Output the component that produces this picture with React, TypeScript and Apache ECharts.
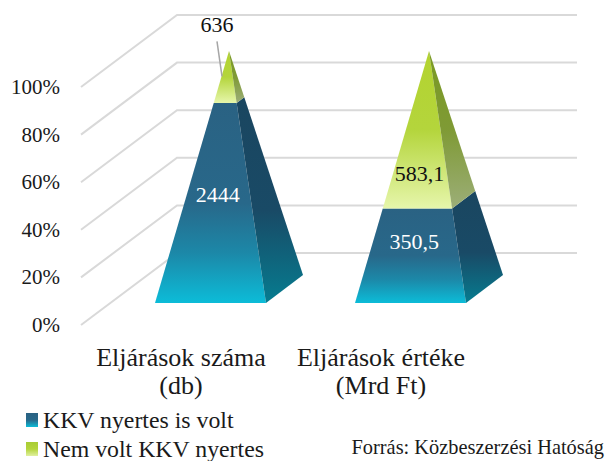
import React, { useEffect, useRef } from "react";
import * as echarts from "echarts";

const categories = ["Eljárások száma\n(db)", "Eljárások értéke\n(Mrd Ft)"];
const kkvWinner = [2444, 350.5];
const noKkvWinner = [636, 583.1];
const seriesNames = ["KKV nyertes is volt", "Nem volt KKV nyertes"];
const yTicks = [0, 20, 40, 60, 80, 100];
const sourceText = "Forrás: Közbeszerzési Hatóság";

// Level (in %) where each value label sits on its pyramid, as placed in the reference
const kkvLabelLevels = [39.7, 20];
const noKkvLabelLevels = [111.2, 48.6];

// 3D projection constants (pixels)
const DEPTH_X = 96;
const DEPTH_Y = 72;
const HALF_W = 55.5;
const HALF_DX = 18.5;
const HALF_DY = 14;
const SERIF = "'Liberation Serif', serif";

const vGrad = (stops: [number, string][]) => ({
  type: "linear",
  x: 0,
  y: 0,
  x2: 0,
  y2: 1,
  colorStops: stops.map(([offset, color]) => ({ offset, color })),
});

const blueFront = vGrad([[0, "#2a6283"], [0.5, "#28688a"], [0.75, "#1c88a8"], [1, "#0cbcd8"]]);
const blueSide = vGrad([[0, "#1a4660"], [0.55, "#194a66"], [1, "#067c90"]]);
const greenFront = vGrad([[0, "#b3d32f"], [0.5, "#b4d53c"], [1, "#e6f6ab"]]);
const greenSide = vGrad([[0, "#7a9a22"], [0.5, "#7f9a35"], [1, "#9cae78"]]);
const legendBlue = vGrad([[0, "#2a6283"], [0.5, "#28688a"], [1, "#0cbcd8"]]);
const legendGreen = vGrad([[0, "#a9cc35"], [0.5, "#b4d53c"], [1, "#e0f0a0"]]);

const pct = (i: number, list: number[]) =>
  (list[i] / (kkvWinner[i] + noKkvWinner[i])) * 100;

const kkvData = categories.map((_, i) => [i, 0, pct(i, kkvWinner), kkvWinner[i], kkvLabelLevels[i]]);
const noKkvData = categories.map((_, i) => [i, pct(i, kkvWinner), 100, noKkvWinner[i], noKkvLabelLevels[i]]);

const fmt = (v: number) => String(v).replace(".", ",");

function pyramidRenderer(front: any, side: any, textColors: string[], leaderIdx: number) {
  return (params: any, api: any) => {
    const i = api.value(0);
    const t0 = api.value(1) / 100;
    const t1 = api.value(2) / 100;
    const raw = api.value(3);
    const lvl = api.value(4);
    const base = api.coord([i, 0]);
    const top = api.coord([i, 100]);
    const cx = base[0] + DEPTH_X / 2;
    const baseY = base[1] - DEPTH_Y / 2;
    const h = base[1] - top[1];
    const P = (u: number, w: number, t: number): number[] => {
      const s = 1 - t;
      return [cx + s * (u * HALF_W + w * HALF_DX), baseY - t * h - s * w * HALF_DY];
    };
    const poly = (pts: number[][], fill: any) => ({
      type: "polygon",
      shape: { points: pts },
      style: { fill },
    });
    const lt = Math.min(lvl / 100, 1);
    const labelX = cx - (1 - lt) * HALF_DX;
    const labelY = baseY - (lvl / 100) * h;
    const children: any[] = [
      poly([P(-1, -1, t0), P(1, -1, t0), P(1, -1, t1), P(-1, -1, t1)], front),
      poly([P(1, -1, t0), P(1, 1, t0), P(1, 1, t1), P(1, -1, t1)], side),
    ];
    if (i === leaderIdx) {
      children.push({
        type: "line",
        shape: { x1: labelX - 12, y1: labelY + 17, x2: labelX - 7, y2: labelY + 52 },
        style: { stroke: "#a6a6a6", lineWidth: 1.5 },
      });
    }
    children.push({
      type: "text",
      x: i === leaderIdx ? labelX - 12 : labelX,
      y: labelY,
      style: {
        text: fmt(raw),
        fill: textColors[i],
        font: `22px ${SERIF}`,
        align: "center",
        verticalAlign: "middle",
      },
    });
    return { type: "group", children };
  };
}

function renderGrid(params: any, api: any) {
  const v = api.value(0);
  const band = api.size([1, 0])[0];
  const left = api.coord([0, v])[0] - band / 2;
  const y = api.coord([0, v])[1];
  const right = api.coord([categories.length - 1, v])[0] + band / 2;
  return {
    type: "polyline",
    shape: {
      points: [
        [left, y],
        [left + DEPTH_X, y - DEPTH_Y],
        [right + DEPTH_X, y - DEPTH_Y],
      ],
    },
    style: { stroke: "#d9d9d9", lineWidth: 2, fill: "none" },
  };
}

export default function App() {
  const ref = useRef<HTMLDivElement>(null);
  useEffect(() => {
    const chart = echarts.init(ref.current!, undefined, { renderer: "svg" });
    chart.setOption({
      animation: false,
      backgroundColor: "#ffffff",
      grid: { left: 81, top: 87, width: 400, height: 238 },
      xAxis: {
        type: "category",
        data: categories,
        axisLine: { show: false },
        axisTick: { show: false },
        axisLabel: {
          interval: 0,
          margin: 18,
          color: "#1a1a1a",
          fontFamily: SERIF,
          fontSize: 26,
          lineHeight: 28,
        },
      },
      yAxis: {
        type: "value",
        min: 0,
        max: 100,
        interval: 20,
        axisLine: { show: false },
        axisTick: { show: false },
        splitLine: { show: false },
        axisLabel: {
          formatter: "{value}%",
          margin: 21,
          color: "#1a1a1a",
          fontFamily: SERIF,
          fontSize: 21,
          padding: [0, 0, 6, 0],
        },
      },
      legend: {
        orient: "vertical",
        left: 26,
        top: 408,
        height: 100,
        padding: 0,
        itemWidth: 12,
        itemHeight: 14,
        itemGap: 5,
        icon: "rect",
        data: seriesNames,
        textStyle: { fontFamily: SERIF, fontSize: 23.8, lineHeight: 20, color: "#1a1a1a" },
      },
      graphic: [
        {
          type: "text",
          right: 2,
          top: 437,
          style: { text: sourceText, fill: "#1a1a1a", font: `20.4px ${SERIF}` },
        },
      ],
      series: [
        {
          type: "custom",
          name: "wall",
          coordinateSystem: "cartesian2d",
          renderItem: renderGrid,
          data: yTicks.map((v) => [v]),
          encode: { y: 0 },
          silent: true,
          z: 1,
        },
        {
          type: "custom",
          name: seriesNames[0],
          coordinateSystem: "cartesian2d",
          renderItem: pyramidRenderer(blueFront, blueSide, ["#ffffff", "#ffffff"], -1),
          itemStyle: { color: legendBlue },
          data: kkvData,
          encode: { x: 0, y: [1, 2] },
          z: 2,
        },
        {
          type: "custom",
          name: seriesNames[1],
          coordinateSystem: "cartesian2d",
          renderItem: pyramidRenderer(greenFront, greenSide, ["#111111", "#111111"], 0),
          itemStyle: { color: legendGreen },
          data: noKkvData,
          encode: { x: 0, y: [1, 2] },
          z: 3,
        },
      ],
    });
    return () => chart.dispose();
  }, []);
  return (
    <div
      ref={ref}
      style={{ position: "absolute", left: 0, top: 0, width: 606, height: 461 }}
    />
  );
}
